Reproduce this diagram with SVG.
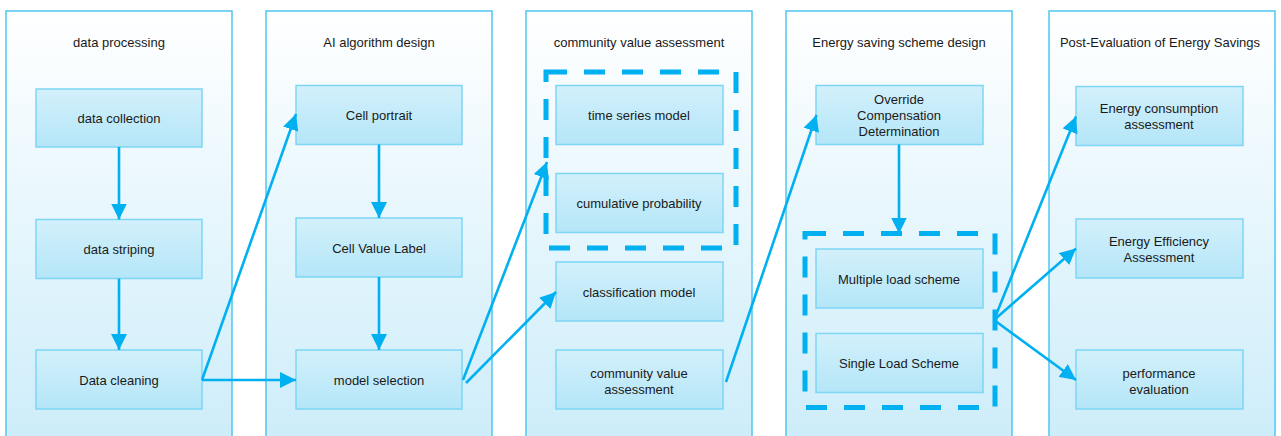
<svg xmlns="http://www.w3.org/2000/svg" width="1281" height="436" viewBox="0 0 1281 436">
<defs>
<linearGradient id="laneG" x1="0" y1="0" x2="0" y2="1">
<stop offset="0" stop-color="#ffffff"/>
<stop offset="1" stop-color="#cdedfa"/>
</linearGradient>
<linearGradient id="nodeG" x1="0" y1="0" x2="0" y2="1">
<stop offset="0" stop-color="#d3f0fb"/>
<stop offset="1" stop-color="#b4e6f8"/>
</linearGradient>
<marker id="arr" markerUnits="userSpaceOnUse" markerWidth="16" markerHeight="16" refX="16" refY="8" orient="auto" viewBox="0 0 16 16">
<path d="M0,0 L16,8 L0,16 z" fill="#00b0f0"/>
</marker>
</defs>
<style>
.lane{fill:url(#laneG);stroke:#4fc6f0;stroke-width:1.5}
.node{fill:url(#nodeG);stroke:#7dd6f5;stroke-width:1.5}
.grp{fill:none;stroke:#00b0f0;stroke-width:5;stroke-dasharray:21 17}
.t{font-family:"Liberation Sans",Arial,sans-serif;font-size:13px;fill:#1a1a1a;text-anchor:middle}
.c{fill:none;stroke:#00b0f0;stroke-width:2.6;marker-end:url(#arr)}
</style>
<rect width="1281" height="436" fill="#ffffff"/>
<g id="lane1"><rect class="lane" x="6" y="11" width="226" height="430"/><text class="t" x="119" y="46.5">data processing</text></g>
<g id="lane2"><rect class="lane" x="266" y="11" width="226" height="430"/><text class="t" x="379" y="46.5">AI algorithm design</text></g>
<g id="lane3"><rect class="lane" x="526" y="11" width="226" height="430"/><text class="t" x="639" y="46.5">community value assessment</text></g>
<g id="lane4"><rect class="lane" x="786" y="11" width="226" height="430"/><text class="t" x="899" y="46.5">Energy saving scheme design</text></g>
<g id="lane5"><rect class="lane" x="1049" y="11" width="226" height="430"/><text class="t" x="1160" y="46.5">Post-Evaluation of Energy Savings</text></g>

<g id="n-collection"><rect class="node" x="36" y="89" width="166" height="58"/><text class="t" x="119" y="123">data collection</text></g>
<g id="n-striping"><rect class="node" x="36" y="219.5" width="166" height="59"/><text class="t" x="119" y="254">data striping</text></g>
<g id="n-cleaning"><rect class="node" x="36" y="350" width="166" height="59"/><text class="t" x="119" y="385">Data cleaning</text></g>

<g id="n-portrait"><rect class="node" x="296" y="85.5" width="166" height="59"/><text class="t" x="379" y="120">Cell portrait</text></g>
<g id="n-label"><rect class="node" x="296" y="218" width="166" height="59"/><text class="t" x="379" y="252.5">Cell Value Label</text></g>
<g id="n-model"><rect class="node" x="296" y="350" width="166" height="59"/><text class="t" x="379" y="385">model selection</text></g>

<g id="g-models"><rect class="grp" x="546" y="72" width="190" height="176"/></g>
<g id="n-timeseries"><rect class="node" x="556" y="85.5" width="167" height="59"/><text class="t" x="639" y="120">time series model</text></g>
<g id="n-cumulative"><rect class="node" x="556" y="173.5" width="167" height="59"/><text class="t" x="639" y="208">cumulative probability</text></g>
<g id="n-classification"><rect class="node" x="556" y="262" width="167" height="59"/><text class="t" x="639" y="297">classification model</text></g>
<g id="n-cva"><rect class="node" x="556" y="350" width="167" height="59"/><text class="t" x="639" y="377.5">community value</text><text class="t" x="639" y="393.5">assessment</text></g>

<g id="n-override"><rect class="node" x="816" y="85.5" width="167" height="59"/><text class="t" x="899" y="103.5">Override</text><text class="t" x="899" y="119.5">Compensation</text><text class="t" x="899" y="135.5">Determination</text></g>
<g id="g-schemes"><rect class="grp" x="805" y="233.5" width="190" height="174"/></g>
<g id="n-multiple"><rect class="node" x="816" y="249" width="167" height="59"/><text class="t" x="899" y="283.5">Multiple load scheme</text></g>
<g id="n-single"><rect class="node" x="816" y="333.5" width="167" height="59"/><text class="t" x="899" y="368">Single Load Scheme</text></g>

<g id="n-consumption"><rect class="node" x="1076" y="86.5" width="167" height="59"/><text class="t" x="1159" y="113">Energy consumption</text><text class="t" x="1159" y="129">assessment</text></g>
<g id="n-efficiency"><rect class="node" x="1076" y="219" width="167" height="59"/><text class="t" x="1159" y="245.5">Energy Efficiency</text><text class="t" x="1159" y="261.5">Assessment</text></g>
<g id="n-performance"><rect class="node" x="1076" y="350" width="167" height="59"/><text class="t" x="1159" y="377.5">performance</text><text class="t" x="1159" y="393.5">evaluation</text></g>

<g id="connectors">
<line class="c" x1="119" y1="147" x2="119" y2="219.5"/>
<line class="c" x1="119" y1="278.5" x2="119" y2="350"/>
<line class="c" x1="202" y1="380" x2="296" y2="380"/>
<line class="c" x1="202" y1="380" x2="296" y2="114"/>
<line class="c" x1="379" y1="144.5" x2="379" y2="218"/>
<line class="c" x1="379" y1="277" x2="379" y2="350"/>
<line class="c" x1="463" y1="380" x2="547" y2="162"/>
<line class="c" x1="466" y1="383" x2="556" y2="292"/>
<line class="c" x1="726" y1="382" x2="816.5" y2="115"/>
<line class="c" x1="899" y1="144.5" x2="899" y2="233.5"/>
<line class="c" x1="994" y1="320" x2="1076" y2="116.5"/>
<line class="c" x1="994" y1="320" x2="1076" y2="248.5"/>
<line class="c" x1="994" y1="320" x2="1076" y2="380"/>
</g>
</svg>
